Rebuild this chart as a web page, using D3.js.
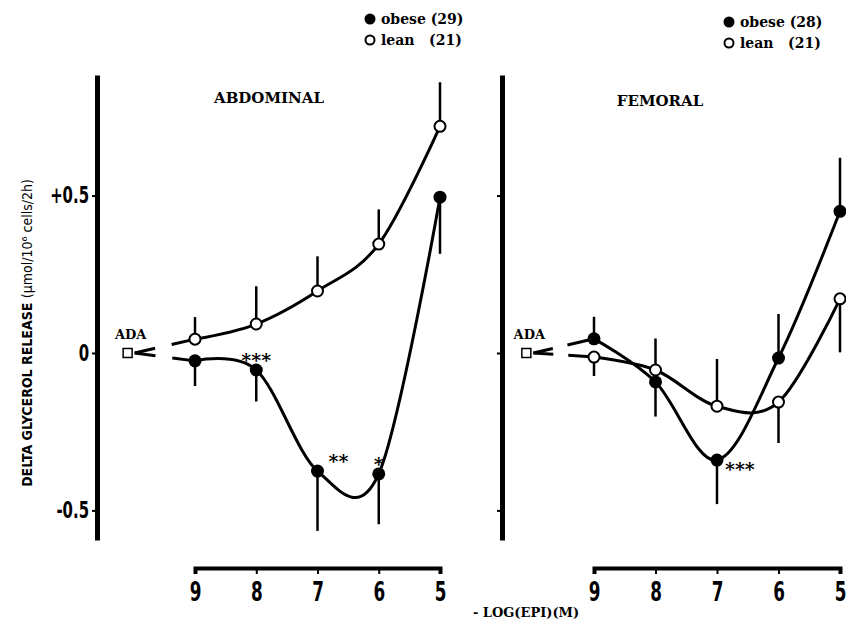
<!DOCTYPE html>
<html lang="en">
<head>
  <meta charset="UTF-8">
  <title>Delta glycerol release - abdominal / femoral</title>
  <script src="https://d3js.org/d3.v7.min.js"></script>
  <style>
    body {
      margin: 0;
      background: #fff;
    }
    svg text {
      fill: #000;
    }
    .serif {
      font-family: "DejaVu Serif", serif;
      font-weight: bold;
    }
    .narrow {
      font-family: "DejaVu Sans Condensed", "Liberation Sans Narrow", sans-serif;
      font-weight: bold;
    }
  </style>
</head>
<body>
  <div id="chart"></div>
  <script>
    // doses, as -log[EPI] (M)
    const doses = [9, 8, 7, 6, 5];
    const yTicks = [-0.5, 0, 0.5];
    const yTickLabels = ["-0.5", "0", "+0.5"];

    // abdominal
    const abdObese = [-0.025, -0.054, -0.375, -0.384, 0.495];
    const abdObeseErr = [-0.08, -0.10, -0.19, -0.16, -0.18];
    const abdLean = [0.044, 0.092, 0.197, 0.346, 0.72];
    const abdLeanErr = [0.07, 0.12, 0.11, 0.11, 0.14];
    const abdSig = ["", "***", "**", "*", ""];

    // femoral
    const femObese = [0.045, -0.092, -0.34, -0.016, 0.45];
    const femObeseErr = [0.07, -0.11, -0.14, 0.14, 0.17];
    const femLean = [-0.013, -0.054, -0.169, -0.156, 0.172];
    const femLeanErr = [-0.06, 0.10, 0.15, -0.13, -0.17];
    const femSig = ["", "", "***", "", ""];

    // adenosine deaminase baseline
    const adaDose = 10.1;
    const adaValue = 0;

    const panelTitles = ["ABDOMINAL", "FEMORAL"];
    const obeseN = [29, 28];
    const leanN = [21, 21];

    const W = 846, H = 622;
    const squeeze = 0.72; // narrow look of the printed digits

    const svg = d3.select("#chart")
      .append("svg")
      .attr("width", W)
      .attr("height", H);

    const y = d3.scaleLinear()
      .domain([-0.594, 0.883])
      .range([540, 75]);

    const panels = [
      { title: panelTitles[0], xr: [195, 440], axisX: 97, titleX: 269, titleY: 103,
        obese: abdObese, obeseErr: abdObeseErr, lean: abdLean, leanErr: abdLeanErr,
        sig: abdSig, dash: "21,17,300", labels: true,
        legend: { x: 370, y: 19, dy: 21 }, n: 0 },
      { title: panelTitles[1], xr: [594, 840], axisX: 502, titleX: 660, titleY: 106,
        obese: femObese, obeseErr: femObeseErr, lean: femLean, leanErr: femLeanErr,
        sig: femSig, dash: "20,15,300", labels: false,
        legend: { x: 729, y: 22, dy: 21 }, n: 1 }
    ];

    // offsets of significance stars from their point (style only)
    const sigOffset = {
      "0-1": [0, -13, "middle"],
      "0-2": [11, -13, "start"],
      "0-3": [0, -13, "middle"],
      "1-2": [8, 6, "start"]
    };

    const line = x => d3.line()
      .x(d => x(d.dose))
      .y(d => y(d.v))
      .curve(d3.curveCatmullRom.alpha(0));

    panels.forEach((p, pi) => {
      const x = d3.scaleLinear().domain([9, 5]).range(p.xr);
      const g = svg.append("g");

      // y axis
      const yAxis = g.append("g")
        .attr("transform", `translate(${p.axisX},0)`)
        .call(d3.axisLeft(y)
          .tickValues(yTicks)
          .tickSize(5)
          .tickSizeOuter(0)
          .tickPadding(3)
          .tickFormat((d, i) => p.labels ? yTickLabels[i] : ""));
      yAxis.select(".domain").attr("stroke-width", 5);
      yAxis.selectAll(".tick line").attr("stroke-width", 2);
      yAxis.selectAll("text")
        .attr("class", "narrow")
        .attr("x", -8 / squeeze)
        .attr("transform", `scale(${squeeze},1)`)
        .style("font-size", "23px");

      // x axis
      const xAxis = g.append("g")
        .attr("transform", "translate(0,568)")
        .call(d3.axisBottom(x)
          .tickValues(doses)
          .tickSize(6)
          .tickSizeOuter(6)
          .tickPadding(9)
          .tickFormat(d3.format("d")));
      xAxis.select(".domain").attr("stroke-width", 4);
      xAxis.selectAll(".tick line").attr("stroke-width", 2);
      xAxis.selectAll("text")
        .attr("class", "narrow")
        .attr("transform", `scale(${squeeze},1)`)
        .style("font-size", "26px");

      // title
      g.append("text")
        .attr("class", "serif")
        .attr("x", p.titleX)
        .attr("y", p.titleY)
        .attr("text-anchor", "middle")
        .style("font-size", "15px")
        .text(p.title);

      const series = [
        { vals: p.lean, err: p.leanErr, open: true },
        { vals: p.obese, err: p.obeseErr, open: false }
      ].map(s => ({
        ...s,
        pts: doses.map((dose, i) => ({ dose, v: s.vals[i], e: s.err[i] }))
      }));

      // ADA marker and connectors
      series.forEach(s => {
        g.append("line")
          .attr("x1", x(adaDose) + 7)
          .attr("y1", y(adaValue))
          .attr("x2", x(s.pts[0].dose))
          .attr("y2", y(s.pts[0].v))
          .attr("stroke", "#000")
          .attr("stroke-width", 3)
          .attr("stroke-dasharray", p.dash);
      });
      g.append("rect")
        .attr("x", x(adaDose) - 4.5)
        .attr("y", y(adaValue) - 4.5)
        .attr("width", 9)
        .attr("height", 9)
        .attr("fill", "#fff")
        .attr("stroke", "#000")
        .attr("stroke-width", 1.5);
      g.append("text")
        .attr("class", "serif")
        .attr("x", x(adaDose) + 3)
        .attr("y", y(adaValue) - 14)
        .attr("text-anchor", "middle")
        .style("font-size", "13px")
        .text("ADA");

      series.forEach(s => {
        // error bars
        g.selectAll(null)
          .data(s.pts)
          .enter()
          .append("line")
          .attr("x1", d => x(d.dose))
          .attr("x2", d => x(d.dose))
          .attr("y1", d => y(d.v))
          .attr("y2", d => y(d.v + d.e))
          .attr("stroke", "#000")
          .attr("stroke-width", 2.5);

        g.append("path")
          .datum(s.pts)
          .attr("d", line(x))
          .attr("fill", "none")
          .attr("stroke", "#000")
          .attr("stroke-width", 3);
      });

      series.forEach(s => {
        g.selectAll(null)
          .data(s.pts)
          .enter()
          .append("circle")
          .attr("cx", d => x(d.dose))
          .attr("cy", d => y(d.v))
          .attr("r", s.open ? 5.5 : 6.5)
          .attr("fill", s.open ? "#fff" : "#000")
          .attr("stroke", "#000")
          .attr("stroke-width", s.open ? 2 : 0);
      });

      // significance stars on obese series
      p.sig.forEach((lab, i) => {
        if (!lab) return;
        const o = sigOffset[`${pi}-${i}`] || [0, -13, "middle"];
        g.append("text")
          .attr("class", "serif")
          .attr("x", x(doses[i]) + o[0])
          .attr("y", y(p.obese[i]) + o[1] + 10)
          .attr("text-anchor", o[2])
          .style("font-size", "19px")
          .text(lab);
      });

      // legend
      const lg = g.append("g").attr("transform", `translate(${p.legend.x},${p.legend.y})`);
      lg.append("circle").attr("r", 5.5).attr("fill", "#000");
      lg.append("circle").attr("cy", p.legend.dy).attr("r", 4.5)
        .attr("fill", "#fff").attr("stroke", "#000").attr("stroke-width", 2);
      lg.append("text")
        .attr("class", "serif")
        .attr("x", 11)
        .attr("y", 5)
        .style("font-size", "14px")
        .style("white-space", "pre")
        .text(`obese (${obeseN[p.n]})`);
      lg.append("text")
        .attr("class", "serif")
        .attr("x", 11)
        .attr("y", p.legend.dy + 5)
        .style("font-size", "14px")
        .style("white-space", "pre")
        .text(`lean   (${leanN[p.n]})`);
    });

    // y axis title
    const yt = svg.append("text")
      .attr("class", "narrow")
      .attr("transform", "translate(32,333) rotate(-90)")
      .attr("text-anchor", "middle")
      .style("font-size", "14px");
    yt.append("tspan").text("DELTA GLYCEROL RELEASE ");
    yt.append("tspan")
      .style("font-weight", "normal")
      .text("(\u00b5mol/10\u2076 cells/2h)");

    // x axis title
    svg.append("text")
      .attr("class", "serif")
      .attr("x", 526)
      .attr("y", 617)
      .attr("text-anchor", "middle")
      .style("font-size", "13px")
      .text("- LOG(EPI)(M)");
  </script>
</body>
</html>
